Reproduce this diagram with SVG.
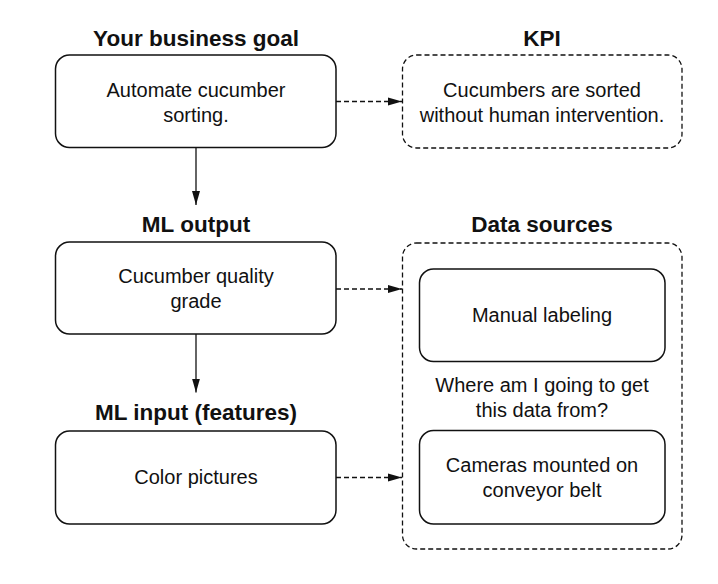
<svg xmlns="http://www.w3.org/2000/svg" width="718" height="584" viewBox="0 0 718 584">
<defs>
<marker id="ah" markerWidth="14" markerHeight="10" refX="14" refY="5" orient="auto" markerUnits="userSpaceOnUse">
<path d="M0,1 L14,5 L0,9 Z" fill="#111"/>
</marker>
<style>
.box{fill:#fff;stroke:#111;stroke-width:1.5}
.dbox{fill:#fff;stroke:#111;stroke-width:1.3;stroke-dasharray:5 3}
.t{font-family:"Liberation Sans",Arial,sans-serif;font-size:20px;fill:#111;text-anchor:middle}
.h{font-family:"Liberation Sans",Arial,sans-serif;font-size:22.5px;font-weight:bold;fill:#111;text-anchor:middle}
.c{fill:none;stroke:#111;stroke-width:1.3}
.cd{fill:none;stroke:#111;stroke-width:1.3;stroke-dasharray:5 3}
</style>
</defs>
<rect width="718" height="584" fill="#fff"/>
<g id="goal">
<text class="h" x="196" y="46">Your business goal</text>
<rect class="box" x="55.5" y="55" width="280.5" height="92.5" rx="14"/>
<text class="t" x="196" y="97">Automate cucumber</text>
<text class="t" x="196" y="122">sorting.</text>
</g>
<g id="kpi">
<text class="h" x="542" y="46">KPI</text>
<rect class="dbox" x="402.5" y="55" width="279.5" height="93" rx="14"/>
<text class="t" x="542" y="97">Cucumbers are sorted</text>
<text class="t" x="542" y="122">without human intervention.</text>
</g>
<g id="mloutput">
<text class="h" x="196" y="232">ML output</text>
<rect class="box" x="55.5" y="242" width="280.5" height="92" rx="14"/>
<text class="t" x="196" y="283">Cucumber quality</text>
<text class="t" x="196" y="308">grade</text>
</g>
<g id="datasources">
<text class="h" x="542" y="232">Data sources</text>
<rect class="dbox" x="402.5" y="243" width="279.5" height="306" rx="14"/>
<text class="t" x="542" y="392">Where am I going to get</text>
<text class="t" x="542" y="417">this data from?</text>
</g>
<g id="manual">
<rect class="box" x="419.5" y="269" width="245.5" height="92.5" rx="14"/>
<text class="t" x="542" y="322">Manual labeling</text>
</g>
<g id="mlinput">
<text class="h" x="196" y="420">ML input (features)</text>
<rect class="box" x="55.5" y="431" width="280.5" height="93" rx="14"/>
<text class="t" x="196" y="484">Color pictures</text>
</g>
<g id="cameras">
<rect class="box" x="419.5" y="430.5" width="245.5" height="93.5" rx="14"/>
<text class="t" x="542" y="472">Cameras mounted on</text>
<text class="t" x="542" y="497">conveyor belt</text>
</g>
<g id="connectors">
<line class="c" x1="196" y1="147.5" x2="196" y2="205" marker-end="url(#ah)"/>
<line class="c" x1="196" y1="334" x2="196" y2="392.5" marker-end="url(#ah)"/>
<line class="cd" x1="336" y1="101.5" x2="402" y2="101.5" marker-end="url(#ah)"/>
<line class="cd" x1="336" y1="289" x2="402" y2="289" marker-end="url(#ah)"/>
<line class="cd" x1="336" y1="477.5" x2="402" y2="477.5" marker-end="url(#ah)"/>
</g>
</svg>
